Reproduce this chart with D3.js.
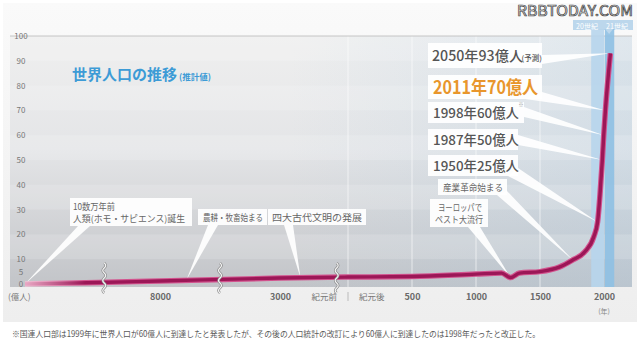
<!DOCTYPE html>
<html><head><meta charset="utf-8">
<script src="https://cdn.jsdelivr.net/npm/d3@7"></script>
<style>
html,body{margin:0;padding:0;background:#fff;}
svg{display:block;}
text{font-family:"Noto Sans CJK JP","Noto Sans",sans-serif;}
</style></head>
<body>
<svg id="chart" width="640" height="342"></svg>
<script>
// ---------- DATA ----------
const years = [-100000, -50000, -8000, -3000, 0, 500, 1000, 1200, 1270, 1340, 1500, 1650, 1750, 1850, 1920, 1950, 1970, 1987, 1998, 2011, 2050];
const popValues = [0, 0.6, 1.2, 2.4, 2.8, 3.0, 4.0, 4.4, 2.6, 4.4, 5.0, 6.8, 9.5, 13, 19, 25, 37, 50, 60, 70, 93];
const yTicks = [0, 5, 10, 20, 30, 40, 50, 60, 70, 80, 90, 100];
const xTickYears = [-8000, -3000, 500, 1000, 1500, 2000];
const xTickLabels = ["8000", "3000", "500", "1000", "1500", "2000"];
const gridYears = [0, 500, 1000, 1500];
const breakYears = [-46000, -5500, -500];
const centuryNames = ["20世紀", "21世紀"];
const centuryStart = [1900, 2000];
const centuryEnd = [2000, 2080];
const eventYears = [2050, 2011, 1998, 1987, 1950, 1760, 1270, -2100, -6900, -100000];
const eventValues = [93, 70, 60, 50, 25, 9.5, 2.6, 2.6, 1.6, 0];
const eventLabels = [
  ["2050年93億人"], ["2011年70億人"], ["1998年60億人"], ["1987年50億人"], ["1950年25億人"],
  ["産業革命始まる"], ["ヨーロッパで", "ペスト大流行"], ["四大古代文明の発展"], ["農耕・牧畜始まる"],
  ["10数万年前", "人類(ホモ・サピエンス)誕生"]
];
const titleText = "世界人口の推移";
const subTitleText = "(推計値)";
const footnote = "※国連人口部は1999年に世界人口が60億人に到達したと発表したが、その後の人口統計の改訂により60億人に到達したのは1998年だったと改正した。";

// ---------- SCALES ----------
const svg = d3.select("#chart");
const x = d3.scaleLinear().domain([-100000, -8000, -3000, 0, 2080]).range([25, 160, 280, 348, 614.24]);
const y = d3.scaleLinear().domain([0, 100]).range([284, 36]);

const defs = svg.append("defs");
const pg = defs.append("linearGradient").attr("id", "panelG").attr("x1", 0).attr("y1", 0).attr("x2", 0).attr("y2", 1);
pg.append("stop").attr("offset", "0%").attr("stop-color", "#fafafa");
pg.append("stop").attr("offset", "100%").attr("stop-color", "#eeeeee");
const bg = defs.append("linearGradient").attr("id", "plotG").attr("x1", 0).attr("y1", 0).attr("x2", 0).attr("y2", 1);
bg.append("stop").attr("offset", "0%").attr("stop-color", "#efefef");
bg.append("stop").attr("offset", "45%").attr("stop-color", "#e4e5e7");
bg.append("stop").attr("offset", "100%").attr("stop-color", "#c2c4c8");
const hg = defs.append("linearGradient").attr("id", "blueG").attr("x1", 0).attr("y1", 0).attr("x2", 1).attr("y2", 0);
hg.append("stop").attr("offset", "0%").attr("stop-color", "#a8c8e0").attr("stop-opacity", 0);
hg.append("stop").attr("offset", "45%").attr("stop-color", "#a8c8e0").attr("stop-opacity", 0);
hg.append("stop").attr("offset", "100%").attr("stop-color", "#a8c8e0").attr("stop-opacity", 0.3);
const lgOuter = defs.append("linearGradient").attr("id", "lineO").attr("gradientUnits", "userSpaceOnUse")
  .attr("x1", x(-100000)).attr("x2", x(-100000) + 60).attr("y1", 0).attr("y2", 0);
lgOuter.append("stop").attr("offset", "0%").attr("stop-color", "#f2c2d6");
lgOuter.append("stop").attr("offset", "100%").attr("stop-color", "#d2538e");
const lgInner = defs.append("linearGradient").attr("id", "lineI").attr("gradientUnits", "userSpaceOnUse")
  .attr("x1", x(-100000)).attr("x2", x(-100000) + 60).attr("y1", 0).attr("y2", 0);
lgInner.append("stop").attr("offset", "0%").attr("stop-color", "#e8a8c4");
lgInner.append("stop").attr("offset", "100%").attr("stop-color", "#9c1757");

// ---------- BACKGROUND ----------
svg.append("rect").attr("x", 3).attr("y", 3).attr("width", 634).attr("height", 319).attr("fill", "url(#panelG)");
const plotL = 10, plotR = 632, plotB = 287;
svg.append("rect").attr("x", plotL).attr("y", y(100)).attr("width", plotR - plotL).attr("height", plotB - y(100)).attr("fill", "url(#plotG)");
svg.append("rect").attr("x", plotL).attr("y", y(100)).attr("width", plotR - plotL).attr("height", plotB - y(100)).attr("fill", "url(#blueG)");
d3.range(0, 100, 10).forEach((v, i) => {
  if (i % 2 === 1) {
    svg.append("rect").attr("x", plotL).attr("width", plotR - plotL)
      .attr("y", y(v + 10)).attr("height", y(v) - y(v + 10)).attr("fill", "#ffffff").attr("opacity", 0.16);
  }
});
svg.selectAll("line.vg").data(gridYears).join("line").attr("class", "vg")
  .attr("x1", d => x(d)).attr("x2", d => x(d)).attr("y1", y(100)).attr("y2", plotB)
  .attr("stroke", "#ffffff").attr("stroke-opacity", 0.6).attr("stroke-width", 1);
svg.append("line").attr("x1", plotL).attr("x2", plotR).attr("y1", y(100)).attr("y2", y(100))
  .attr("stroke", "#c4c4c4").attr("stroke-width", 1);

// century bands
const bandTop = 29;
svg.append("rect").attr("x", 573).attr("y", 20).attr("width", 60).attr("height", 10).attr("fill", "#bcd7ec");
centuryNames.forEach((n, i) => {
  svg.append("rect").attr("x", x(centuryStart[i]) + (i ? 0.8 : 0)).attr("y", bandTop)
    .attr("width", x(centuryEnd[i]) - x(centuryStart[i]) - (i ? 0.8 : 0)).attr("height", plotB - bandTop)
    .attr("fill", i ? "#8ec0e3" : "#b7d5ec").attr("opacity", 0.9);
});
const tcx = (x(centuryStart[1]) + x(centuryEnd[1])) / 2;
svg.append("path").attr("d", `M${tcx - 4},29 L${tcx + 4},29 L${tcx},34 Z`).attr("fill", "#bcd7ec");
svg.append("text").attr("y", 28.5).attr("font-size", 7).attr("fill", "#ffffff")
  .selectAll("tspan").data(centuryNames).join("tspan")
  .attr("x", (d, i) => i ? 617 : 587).attr("text-anchor", "middle").text(d => d);

// ---------- CALLOUTS ----------
const layout = [
  {box: [428, 43, 114, 25], base: [[542, 55], [542, 64]], lines: [{x: 432, y: 61, s: 14.2}], fill: "#555", weight: 500, extra: {t: "(予測)", x: 521.5, y: 60.5, s: 7.5}},
  {box: [428, 75, 114, 24], base: [[525, 99], [542, 92]], lines: [{x: 433, y: 94, s: 18, w: 105}], fill: "#e8962c", weight: 700},
  {box: [428, 102, 96, 21], base: [[524, 107], [524, 117]], lines: [{x: 433, y: 118, s: 13.4}], fill: "#555", weight: 500, extra: {t: "※", x: 518.5, y: 106, s: 5}},
  {box: [428, 129, 90, 21], base: [[518, 135], [518, 145]], lines: [{x: 433, y: 145, s: 13.4}], fill: "#555", weight: 500},
  {box: [428, 155, 90, 21], base: [[508, 176], [518, 168]], lines: [{x: 433, y: 171, s: 13.4}], fill: "#555", weight: 500},
  {box: [438, 179, 69, 16], base: [[497, 195], [507, 191]], lines: [{x: 443, y: 190.5, s: 9.5, w: 60}], fill: "#666", weight: 400},
  {box: [430, 199, 58, 28], base: [[468, 227], [480, 227]], lines: [{x: 438, y: 210.5, s: 9, w: 44}, {x: 435, y: 223, s: 9, w: 48}], fill: "#666", weight: 400},
  {box: [268, 209, 98, 16], base: [[284, 225], [293, 225]], lines: [{x: 272, y: 220.5, s: 9.5, w: 90}], fill: "#666", weight: 400},
  {box: [198, 209, 69, 16], base: [[208, 225], [218, 225]], lines: [{x: 203, y: 220.5, s: 9.5, w: 60}], fill: "#666", weight: 400},
  {box: [70, 198, 122, 28], base: [[78, 226], [90, 226]], lines: [{x: 73, y: 209.5, s: 9, w: 42}, {x: 73, y: 222, s: 9, w: 112}], fill: "#666", weight: 400}
];
layout.forEach((L, i) => {
  const tx = x(eventYears[i]), ty = y(eventValues[i]);
  svg.append("path").attr("d", `M${L.base[0][0]},${L.base[0][1]} L${tx},${ty} L${L.base[1][0]},${L.base[1][1]} Z`)
    .attr("fill", "#ffffff").attr("opacity", 0.92);
});

// ---------- LINE ----------
const pts = years.map((yr, i) => [yr, popValues[i]]);
const lineGen = d3.line().x(d => x(d[0])).y(d => y(d[1])).curve(d3.curveMonotoneX);
svg.append("path").attr("d", lineGen(pts)).attr("fill", "none").attr("stroke", "url(#lineO)")
  .attr("stroke-width", 5.5).attr("stroke-linejoin", "round");
svg.append("path").attr("d", lineGen(pts)).attr("fill", "none").attr("stroke", "url(#lineI)")
  .attr("stroke-width", 3.4).attr("stroke-linejoin", "round");

// boxes + text
layout.forEach((L, i) => {
  svg.append("rect").attr("x", L.box[0]).attr("y", L.box[1]).attr("width", L.box[2]).attr("height", L.box[3])
    .attr("fill", "#ffffff").attr("opacity", 0.93);
  eventLabels[i].forEach((s, j) => {
    const ln = L.lines[j];
    const t = svg.append("text").attr("x", ln.x).attr("y", ln.y).attr("font-size", ln.s)
      .attr("font-weight", L.weight).attr("fill", L.fill).text(s);
    if (ln.w) t.attr("textLength", ln.w).attr("lengthAdjust", "spacingAndGlyphs");
  });
  if (L.extra) {
    svg.append("text").attr("x", L.extra.x).attr("y", L.extra.y).attr("font-size", L.extra.s)
      .attr("fill", L.extra.t === "※" ? "#999" : L.fill).attr("font-weight", 500).text(L.extra.t);
  }
});

// ---------- BREAK MARKS ----------
breakYears.forEach(b => {
  const cx = x(b);
  let d = `M${cx},263`;
  for (let k = 0; k < 6; k++) {
    const y0 = 263 + k * 5;
    d += ` Q${cx + (k % 2 ? -3 : 3)},${y0 + 2.5} ${cx},${y0 + 5}`;
  }
  svg.append("path").attr("d", d).attr("fill", "none").attr("stroke", "#8a8a8a").attr("stroke-width", 2.6);
  svg.append("path").attr("d", d).attr("fill", "none").attr("stroke", "#f4f4f4").attr("stroke-width", 1.2);
});

// ---------- AXES ----------
const yAxis = d3.axisLeft(y).tickValues(yTicks).tickSize(0).tickFormat(d3.format("d"));
const yg = svg.append("g").attr("transform", "translate(21,0)").call(yAxis);
yg.select(".domain").remove();
yg.selectAll("text").attr("x", 0).attr("text-anchor", "middle").attr("font-size", 8).attr("fill", "#777")
  .attr("font-family", "'Open Sans','Noto Sans',sans-serif");

const xAxis = d3.axisBottom(x).tickValues(xTickYears).tickSize(0).tickFormat((d, i) => xTickLabels[i]);
const xg = svg.append("g").attr("transform", "translate(0,289)").call(xAxis);
xg.select(".domain").remove();
xg.selectAll("text").attr("dy", 0).attr("y", 11).attr("font-size", 9).attr("font-weight", 700).attr("fill", "#6a6a6a")
  .attr("font-family", "'Open Sans','Noto Sans',sans-serif");

svg.append("text").attr("x", x(0) - 11).attr("y", 300).attr("text-anchor", "end").attr("font-size", 8.5).attr("fill", "#777").text("紀元前");
svg.append("text").attr("x", x(0) + 11).attr("y", 300).attr("font-size", 8.5).attr("fill", "#777").text("紀元後");
svg.append("line").attr("x1", x(0)).attr("x2", x(0)).attr("y1", 292).attr("y2", 301).attr("stroke", "#bbb");
svg.append("text").attr("x", 8).attr("y", 300).attr("font-size", 8.5).attr("fill", "#777").text("(億人)");
svg.append("text").attr("x", x(2000)).attr("y", 314).attr("text-anchor", "middle").attr("font-size", 7).attr("fill", "#888").text("(年)");

// ---------- TITLE ----------
svg.append("text").attr("x", 72).attr("y", 80).attr("font-size", 15).attr("font-weight", 700).attr("fill", "#3d9bd6").text(titleText);
svg.append("text").attr("x", 179).attr("y", 80).attr("font-size", 8.5).attr("font-weight", 700).attr("fill", "#3d9bd6").text(subTitleText);

// ---------- WATERMARK ----------
svg.append("text").attr("x", 517).attr("y", 16).attr("font-size", 14).attr("fill", "#ffffff").attr("stroke", "#444")
  .attr("stroke-width", 0.7).attr("font-family", "'DejaVu Sans Condensed','DejaVu Sans',sans-serif")
  .attr("textLength", 116).attr("lengthAdjust", "spacingAndGlyphs").text("RBBTODAY.COM");

// ---------- FOOTNOTE ----------
svg.append("text").attr("x", 12).attr("y", 337).attr("font-size", 8.5).attr("fill", "#5a5a5a")
  .attr("textLength", 528).attr("lengthAdjust", "spacingAndGlyphs").text(footnote);
</script>
</body></html>
